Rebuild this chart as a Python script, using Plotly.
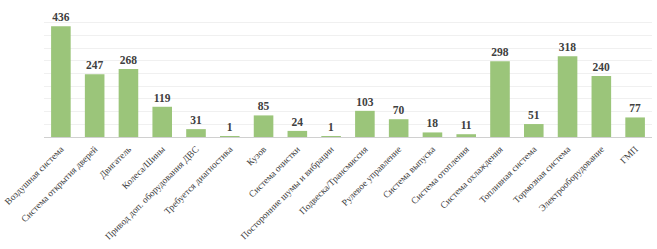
import plotly.graph_objects as go

categories = ["Воздушная система", "Система открытия дверей", "Двигатель", "Колеса/Шины",
              "Привод доп. оборудования ДВС", "Требуется диагностика", "Кузов", "Система очистки",
              "Посторонние шумы и вибрации", "Подвеска/Трансмиссия", "Рулевое управление",
              "Система выпуска", "Система отопления", "Система охлаждения", "Топливная система",
              "Тормозная система", "Электрооборудование", "ГМП"]
values = [436, 247, 268, 119, 31, 1, 85, 24, 1, 103, 70, 18, 11, 298, 51, 318, 240, 77]

fig = go.Figure(go.Bar(
    x=categories, y=values,
    marker=dict(color="#9bc57a", line=dict(width=0)),
    text=[str(v) for v in values], textposition="outside",
    textfont=dict(family="Liberation Serif", size=11.5, color="#404040", weight="bold"),
    cliponaxis=False,
))
fig.update_layout(
    width=657, height=249,
    margin=dict(l=44, r=5, t=10, b=112, autoexpand=False),
    plot_bgcolor="white", paper_bgcolor="white",
    bargap=0.42, showlegend=False,
    font=dict(family="Liberation Serif"),
)
fig.update_xaxes(tickangle=-45, automargin=False,
                 tickfont=dict(family="Liberation Serif", size=9.4, color="#404040"),
                 showline=True, linecolor="#d0d0d0", linewidth=1,
                 ticks="outside", ticklen=2, tickcolor="rgba(0,0,0,0)", showgrid=False)
fig.update_yaxes(range=[0, 500], dtick=50, showticklabels=False, showgrid=True, automargin=False,
                 gridcolor="#f0f0f0", gridwidth=1, zeroline=False)
fig.write_html("out.html", config={"displayModeBar": False},
               post_script="document.body.style.margin='0';")
